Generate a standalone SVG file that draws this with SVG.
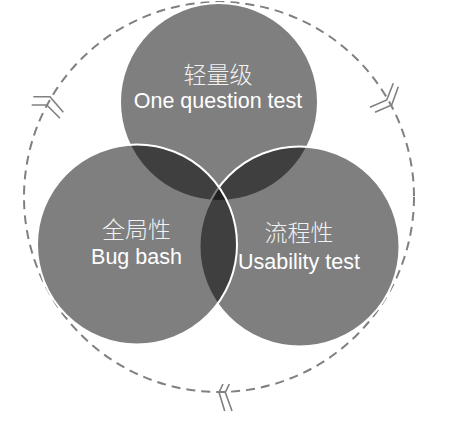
<svg xmlns="http://www.w3.org/2000/svg" width="451" height="434" viewBox="0 0 451 434">
  <style>
    .set { fill: #000; fill-opacity: 0.5; stroke: #fff; stroke-width: 2; }
    .cn { font-family: "Noto Sans CJK SC", "Noto Sans", sans-serif; font-size: 23px; fill: #f2f2f2; text-anchor: middle; font-weight: 300; }
    .en { font-family: "Liberation Sans", Arial, sans-serif; font-size: 21.5px; fill: #fff; text-anchor: middle; }
    .cycle { fill: none; stroke: #808080; stroke-width: 2; stroke-dasharray: 9 6; }
    .chev { fill: none; stroke: #808080; stroke-width: 1.6; stroke-linejoin: miter; }
  </style>
  <g id="connectors">
    <circle class="cycle" cx="219" cy="197" r="195"/>
    <path class="chev" d="M33.3,96.7 L50,96.7 L63.3,112.3 M31.7,105 L46.7,105 L60,118.3"/>
    <path class="chev" d="M393.3,83.3 L386.7,100 L370,107.3 M398.3,86.7 L391.7,105 L375,112.3"/>
    <path class="chev" d="M223,384 L219,392.3 L224.7,411 M229.3,384 L225.3,392.3 L232,411"/>
  </g>
  <g id="node-top">
    <circle class="set" cx="219" cy="102" r="99"/>
    <text class="cn" x="218" y="83">轻量级</text>
    <text class="en" x="218" y="108">One question test</text>
  </g>
  <g id="node-right">
    <circle class="set" cx="299.5" cy="246.5" r="100"/>
    <text class="cn" x="299" y="241">流程性</text>
    <text class="en" x="299" y="269">Usability test</text>
  </g>
  <g id="node-left">
    <circle class="set" cx="137" cy="244.5" r="100"/>
    <text class="cn" x="136.5" y="238">全局性</text>
    <text class="en" x="136.5" y="264">Bug bash</text>
  </g>
</svg>
